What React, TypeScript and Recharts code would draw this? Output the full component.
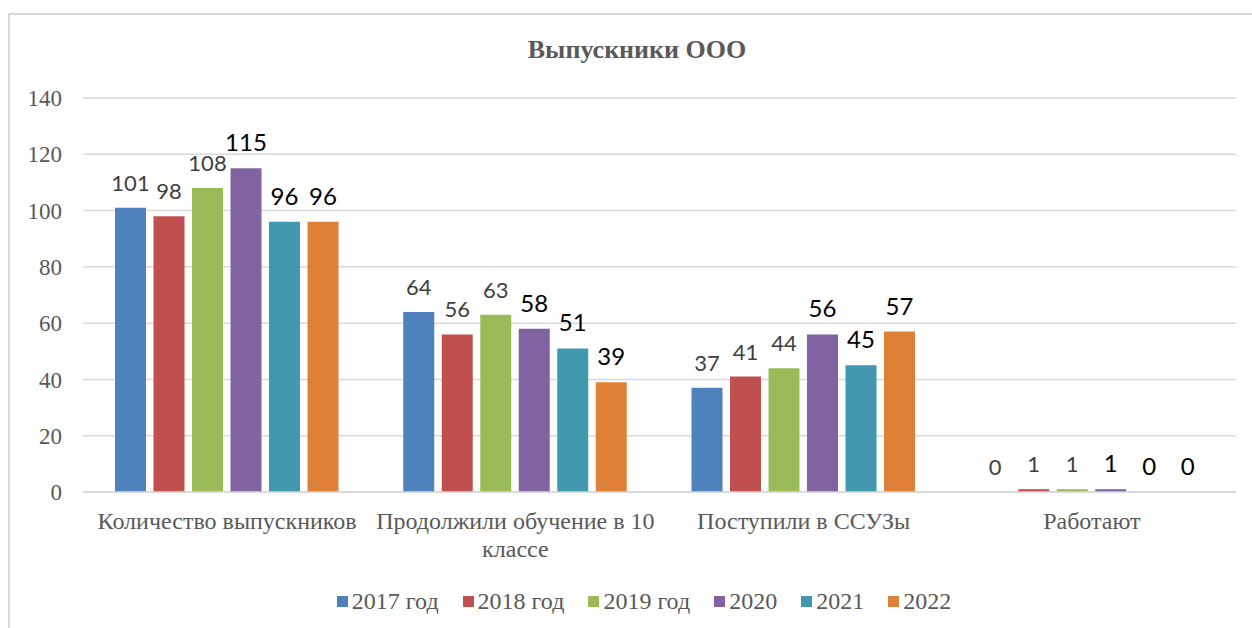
import React from 'react';
import { BarChart, Bar, XAxis, YAxis, CartesianGrid, Legend, LabelList } from 'recharts';

// categories on the x axis
const categories = [
  'Количество выпускников',
  'Продолжили обучение в 10 классе',
  'Поступили в ССУЗы',
  'Работают',
];

// one array per year
const y2017 = [101, 64, 37, 0];
const y2018 = [98, 56, 41, 1];
const y2019 = [108, 63, 44, 1];
const y2020 = [115, 58, 56, 1];
const y2021 = [96, 51, 45, 0];
const y2022 = [96, 39, 57, 0];

const yTicks = [0, 20, 40, 60, 80, 100, 120, 140];

interface SeriesConfig {
  key: string;
  name: string;
  values: number[];
  color: string;
  labelColor: string;
  labelSize: number;
}

const series: SeriesConfig[] = [
  { key: 's2017', name: '2017 год', values: y2017, color: '#4F81BD', labelColor: '#404040', labelSize: 22 },
  { key: 's2018', name: '2018 год', values: y2018, color: '#C0504D', labelColor: '#404040', labelSize: 22 },
  { key: 's2019', name: '2019 год', values: y2019, color: '#9BBB59', labelColor: '#404040', labelSize: 22 },
  { key: 's2020', name: '2020', values: y2020, color: '#8064A2', labelColor: '#000000', labelSize: 24 },
  { key: 's2021', name: '2021', values: y2021, color: '#4198AF', labelColor: '#000000', labelSize: 24 },
  { key: 's2022', name: '2022', values: y2022, color: '#DD8138', labelColor: '#000000', labelSize: 24 },
];

const data = categories.map((name, i) => {
  const row: Record<string, any> = { name };
  series.forEach((s) => {
    row[s.key] = s.values[i];
  });
  return row;
});

const serif = '"Liberation Serif", "Times New Roman", serif';
const labelFont = 'Lato, "Liberation Sans", sans-serif';
const textGray = '#595959';
const tickFontSize = 24;

// greedy word wrap using canvas text metrics
let measureCtx: CanvasRenderingContext2D | null = null;
const wrapWords = (text: string, maxWidth: number) => {
  if (!measureCtx) measureCtx = document.createElement('canvas').getContext('2d');
  const ctx = measureCtx!;
  ctx.font = `${tickFontSize}px "Liberation Serif"`;
  const lines: string[] = [];
  let cur = '';
  text.split(' ').forEach((w) => {
    const next = cur ? cur + ' ' + w : w;
    if (cur && ctx.measureText(next).width > maxWidth) {
      lines.push(cur);
      cur = w;
    } else {
      cur = next;
    }
  });
  if (cur) lines.push(cur);
  return lines;
};

const CategoryTick = (props: any) => {
  const { x, y, payload } = props;
  const lines = wrapWords(String(payload.value), 286);
  return (
    <text
      x={x}
      y={y}
      textAnchor="middle"
      fill={textGray}
      style={{ fontFamily: serif, fontSize: tickFontSize }}
    >
      {lines.map((line, i) => (
        <tspan key={i} x={x} dy={i === 0 ? 17 : 28}>
          {line}
        </tspan>
      ))}
    </text>
  );
};

// value label drawn above the bar (also for zero values)
const makeLabel = (color: string, size: number) => (props: any) => {
  const { x, y, width, value } = props;
  if (value === undefined || value === null) return null;
  return (
    <text
      x={x + width / 2}
      y={y - 17}
      textAnchor="middle"
      fill={color}
      style={{ fontFamily: labelFont, fontSize: size }}
    >
      {value}
    </text>
  );
};

const LegendContent = () => (
  <div
    style={{
      display: 'flex',
      justifyContent: 'center',
      alignItems: 'center',
      height: 30,
      paddingLeft: 42,
      fontFamily: serif,
      fontSize: 24,
      color: textGray,
    }}
  >
    {series.map((s) => (
      <div key={s.key} style={{ display: 'flex', alignItems: 'center', margin: '0 12px' }}>
        <span style={{ display: 'inline-block', width: 11, height: 11, background: s.color, marginRight: 4 }} />
        <span>{s.name}</span>
      </div>
    ))}
  </div>
);

const App = () => {
  return (
    <div
      style={{
        position: 'absolute',
        left: 8,
        top: 13,
        width: 1242,
        height: 613,
        borderTop: '2px solid #d9d9d9',
        borderLeft: '2px solid #d9d9d9',
        background: '#fff',
      }}
    >
      <div
        style={{
          position: 'absolute',
          top: 20,
          left: 0,
          width: 1254,
          textAlign: 'center',
          fontFamily: serif,
          fontWeight: 'bold',
          fontSize: 26,
          color: textGray,
        }}
      >
        Выпускники ООО
      </div>
      <BarChart
        width={1242}
        height={613}
        data={data}
        barSize={31}
        barGap={7.5}
        margin={{ top: 83, right: 16, left: 0, bottom: 12 }}
      >
        <CartesianGrid vertical={false} stroke="#d9d9d9" strokeWidth={1.5} />
        <XAxis
          dataKey="name"
          height={94}
          axisLine={{ stroke: '#d9d9d9', strokeWidth: 1.5 }}
          tickLine={false}
          tickSize={0}
          tickMargin={20}
          interval={0}
          tick={<CategoryTick />}
        />
        <YAxis
          width={73}
          domain={[0, 140]}
          ticks={yTicks}
          axisLine={false}
          tickLine={false}
          tickSize={0}
          tickMargin={21}
          tick={{ fill: textGray, fontFamily: serif, fontSize: 23 }}
        />
        <Legend verticalAlign="bottom" content={<LegendContent />} />
        {series.map((s) => (
          <Bar
            key={s.key}
            dataKey={s.key}
            name={s.name}
            fill={s.color}
            minPointSize={0.01}
            isAnimationActive={false}
          >
            <LabelList dataKey={s.key} content={makeLabel(s.labelColor, s.labelSize)} />
          </Bar>
        ))}
      </BarChart>
    </div>
  );
};

export default App;
